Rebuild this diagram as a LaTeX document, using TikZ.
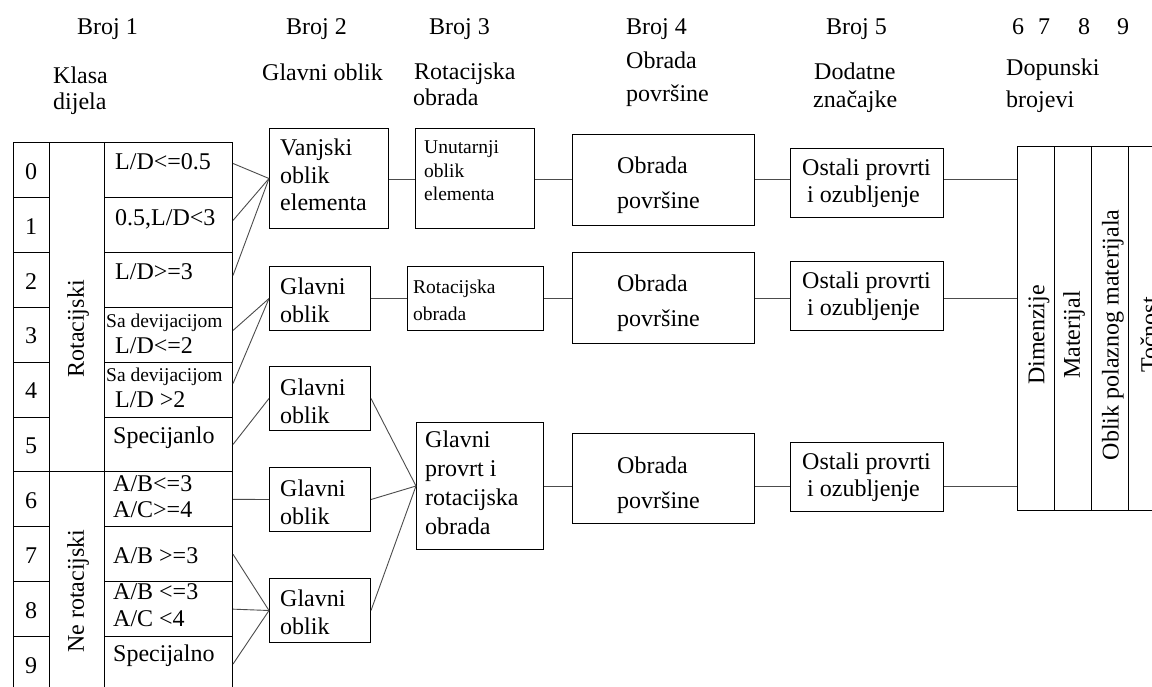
\documentclass[tikz,border=0pt]{standalone}
\usepackage{fontspec}
\setmainfont{Liberation Serif}
\usetikzlibrary{calc}
\begin{document}
\begin{tikzpicture}[x=1pt,y=-1pt,
  bx/.style={draw=black, line width=1pt, inner sep=0pt, anchor=north west, rectangle},
  cell/.style={draw=black, line width=1pt, inner sep=0pt, anchor=north west, rectangle, minimum height=54.9pt},
  conn/.style={draw=black!70, line width=0.9pt},
  tx/.style={anchor=base west, inner sep=0pt, font=\fontsize{24}{28}\selectfont},
  stx/.style={anchor=base west, inner sep=0pt, font=\fontsize{19.5}{23}\selectfont},
  ctx/.style={anchor=center, inner sep=0pt, font=\fontsize{24}{28}\selectfont},
  rtx/.style={anchor=center, inner sep=0pt, rotate=90, font=\fontsize{24}{28}\selectfont}]
\path[use as bounding box] (0,0) rectangle (1152,686);
\clip (0,0) rectangle (1152,686);
\fill[white] (0,0) rectangle (1152,686);

% ---------- headers ----------
\node[tx] (h1) at (77,34.5) {Broj 1};
\node[tx] (h1a) at (53,83) {Klasa};
\node[tx] (h1b) at (53,109) {dijela};
\node[tx] (h2) at (286,34.5) {Broj 2};
\node[tx] (h2a) at (262,80) {Glavni oblik};
\node[tx] (h3) at (429,34.5) {Broj 3};
\node[tx] (h3a) at (414,79) {Rotacijska};
\node[tx] (h3b) at (413,105) {obrada};
\node[tx] (h4) at (626,34.5) {Broj 4};
\node[tx] (h4a) at (626,68) {Obrada};
\node[tx] (h4b) at (626,101) {površine};
\node[tx] (h5) at (826,34.5) {Broj 5};
\node[tx] (h5a) at (814,79) {Dodatne};
\node[tx] (h5b) at (813,107) {značajke};
\node[tx] (h6) at (1012,34.5) {6};
\node[tx] (h7) at (1038,34.5) {7};
\node[tx] (h8) at (1078,34.5) {8};
\node[tx] (h9) at (1117,34.5) {9};
\node[tx] (h6a) at (1006,75) {Dopunski};
\node[tx] (h6b) at (1006,107) {brojevi};

% ---------- left table ----------
\foreach \i in {0,...,9} {
  \node[cell, minimum width=36pt] (n\i) at (13,{142+54.9*\i}) {};
  \node[ctx] (nt\i) at (31,{142+54.9*\i+29.45}) {\i};
  \node[cell, minimum width=128pt] (c\i) at (104,{142+54.9*\i}) {};
}
\node[bx, minimum width=55pt, minimum height=329.4pt] (rotc) at (49,142) {};
\node[bx, minimum width=55pt, minimum height=219.6pt] (nerotc) at (49,471.4) {};
\node[rtx] (rotl) at (78,329) {Rotacijski};
\node[rtx] (nerotl) at (78,591) {Ne rotacijski};

\node[tx] (t0) at (115,169) {L/D<=0.5};
\node[tx] (t1) at (115,225) {0.5,L/D<3};
\node[tx] (t2) at (115,279) {L/D>=3};
\node[stx] (t3a) at (106,327) {Sa devijacijom};
\node[tx] (t3b) at (115,353) {L/D<=2};
\node[stx] (t4a) at (106,381) {Sa devijacijom};
\node[tx] (t4b) at (115,407) {L/D >2};
\node[tx] (t5) at (113,443) {Specijanlo};
\node[tx] (t6a) at (113,491) {A/B<=3};
\node[tx] (t6b) at (113,517) {A/C>=4};
\node[tx] (t7) at (113,563) {A/B >=3};
\node[tx] (t8a) at (113,599) {A/B <=3};
\node[tx] (t8b) at (113,626) {A/C <4};
\node[tx] (t9) at (113,661) {Specijalno};

% ---------- boxes ----------
\node[bx, minimum width=119pt, minimum height=100pt] (van) at (269,128) {};
\node[bx, minimum width=101pt, minimum height=64pt] (g1) at (269,266) {};
\node[bx, minimum width=101pt, minimum height=64pt] (g2) at (269,366) {};
\node[bx, minimum width=101pt, minimum height=64pt] (g3) at (269,467) {};
\node[bx, minimum width=101pt, minimum height=64pt] (g4) at (269,578) {};
\node[bx, minimum width=119pt, minimum height=100pt] (unu) at (415,128) {};
\node[bx, minimum width=136pt, minimum height=64pt] (rob) at (407,266) {};
\node[bx, minimum width=127pt, minimum height=127pt] (prov) at (416,422) {};
\node[bx, minimum width=182pt, minimum height=91pt] (ob1) at (572,134) {};
\node[bx, minimum width=182pt, minimum height=91pt] (ob2) at (572,252) {};
\node[bx, minimum width=182pt, minimum height=90pt] (ob3) at (572,433) {};
\node[bx, minimum width=153pt, minimum height=69pt] (os1) at (790,148) {};
\node[bx, minimum width=153pt, minimum height=69pt] (os2) at (790,261) {};
\node[bx, minimum width=153pt, minimum height=69pt] (os3) at (790,442) {};
\foreach \j in {1,...,4} {
  \node[bx, minimum width=37pt, minimum height=364pt] (d\j) at ({1017+37*(\j-1)},146) {};
}

% box texts
\node[tx] (vt1) at (280,155) {Vanjski};
\node[tx] (vt2) at (280,183) {oblik};
\node[tx] (vt3) at (280,210) {elementa};
\node[stx] (ut1) at (424,153) {Unutarnji};
\node[stx] (ut2) at (424,177) {oblik};
\node[stx] (ut3) at (424,200) {elementa};
\node[tx] (g1a) at (280,294) {Glavni};
\node[tx] (g1b) at (280,322) {oblik};
\node[tx] (g2a) at (280,395) {Glavni};
\node[tx] (g2b) at (280,423) {oblik};
\node[tx] (g3a) at (280,496) {Glavni};
\node[tx] (g3b) at (280,524) {oblik};
\node[tx] (g4a) at (280,606) {Glavni};
\node[tx] (g4b) at (280,634) {oblik};
\node[stx] (ra) at (413,293) {Rotacijska};
\node[stx] (rb) at (413,320) {obrada};
\node[tx] (pa) at (425,447) {Glavni};
\node[tx] (pb) at (425,476) {provrt i};
\node[tx] (pc) at (425,505) {rotacijska};
\node[tx] (pd) at (425,534) {obrada};
\node[tx] (o1a) at (617,173) {Obrada};
\node[tx] (o1b) at (617,208) {površine};
\node[tx] (o2a) at (617,291) {Obrada};
\node[tx] (o2b) at (617,326) {površine};
\node[tx] (o3a) at (617,473) {Obrada};
\node[tx] (o3b) at (617,508) {površine};
\node[tx] (s1a) at (802,175) {Ostali provrti};
\node[tx] (s1b) at (807,202) {i ozubljenje};
\node[tx] (s2a) at (802,288) {Ostali provrti};
\node[tx] (s2b) at (807,315) {i ozubljenje};
\node[tx] (s3a) at (802,469) {Ostali provrti};
\node[tx] (s3b) at (807,496) {i ozubljenje};
\node[rtx] (dt1) at (1039,335) {Dimenzije};
\node[rtx] (dt2) at (1074,335) {Materijal};
\node[rtx] (dt3) at (1113,335) {Oblik polaznog materijala};
\node[rtx] (dt4) at (1149,335) {Točnost};

% ---------- connectors ----------
\coordinate (r1) at (0,179);
\coordinate (r2) at (0,298);
\coordinate (r3) at (0,486);
\draw[conn] ([yshift=6.5pt]c0.east) -- (van.west);
\draw[conn] ([yshift=4.4pt]c1.east) -- (van.west);
\draw[conn] ([yshift=4.3pt]c2.east) -- (van.west);
\draw[conn] ([yshift=4.2pt]c3.east) -- (g1.west);
\draw[conn] ([yshift=6pt]c4.east) -- (g1.west);
\draw[conn] (c5.east) -- (g2.west);
\draw[conn] (c6.east) -- (g3.west);
\draw[conn] (c7.east) -- (g4.west);
\draw[conn] (c8.east) -- (g4.west);
\draw[conn] (c9.east) -- (g4.west);
\draw[conn] (g2.east) -- (prov.west);
\draw[conn] (g3.east) -- (prov.west);
\draw[conn] (g4.east) -- (prov.west);
\draw[conn] (van.east |- r1) -- (unu.west |- r1);
\draw[conn] (unu.east |- r1) -- (ob1.west |- r1);
\draw[conn] (ob1.east |- r1) -- (os1.west |- r1);
\draw[conn] (os1.east |- r1) -- (d1.west |- r1);
\draw[conn] (g1.east |- r2) -- (rob.west |- r2);
\draw[conn] (rob.east |- r2) -- (ob2.west |- r2);
\draw[conn] (ob2.east |- r2) -- (os2.west |- r2);
\draw[conn] (os2.east |- r2) -- (d1.west |- r2);
\draw[conn] (prov.east |- r3) -- (ob3.west |- r3);
\draw[conn] (ob3.east |- r3) -- (os3.west |- r3);
\draw[conn] (os3.east |- r3) -- (d1.west |- r3);
\end{tikzpicture}
\end{document}
